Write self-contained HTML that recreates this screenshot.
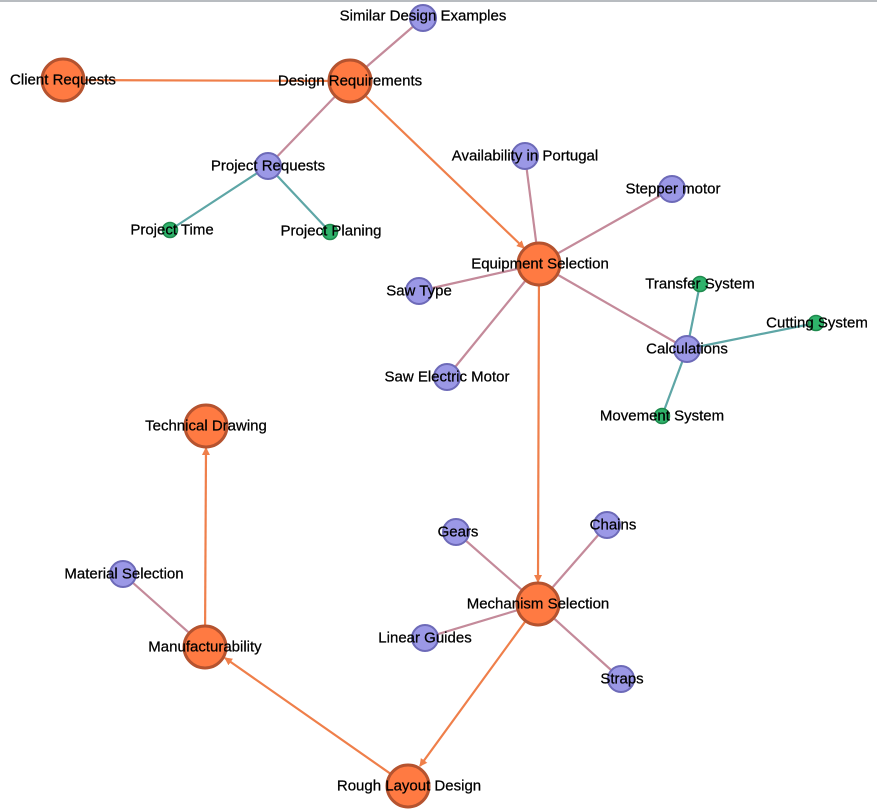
<!DOCTYPE html>
<html><head><meta charset="utf-8"><style>
html,body{margin:0;padding:0;background:#fff;width:877px;height:812px;overflow:hidden}
text{font-family:"Liberation Sans",sans-serif;font-size:15px;fill:#000;stroke:#000;stroke-width:0.25;text-anchor:middle;dominant-baseline:central}
</style></head><body>
<svg width="877" height="812" viewBox="0 0 877 812" xmlns="http://www.w3.org/2000/svg">
<defs><marker id="a" markerWidth="8" markerHeight="8" refX="7" refY="4" orient="auto" markerUnits="userSpaceOnUse"><path d="M0,0 L8,4 L0,8 z" fill="#ef7f4a"/></marker></defs>
<rect x="0" y="0" width="877" height="2" fill="#b8bcc0"/>
<g stroke="#c48a9a" stroke-width="2.2">
<line x1="350" y1="81" x2="423" y2="18"/>
<line x1="350" y1="81" x2="268" y2="166"/>
<line x1="539" y1="264" x2="525" y2="156"/>
<line x1="539" y1="264" x2="672" y2="189"/>
<line x1="539" y1="264" x2="419" y2="291"/>
<line x1="539" y1="264" x2="447" y2="377"/>
<line x1="539" y1="264" x2="687" y2="349"/>
<line x1="538" y1="604" x2="456" y2="532"/>
<line x1="538" y1="604" x2="607" y2="525"/>
<line x1="538" y1="604" x2="425" y2="638"/>
<line x1="538" y1="604" x2="621" y2="679"/>
<line x1="205" y1="647" x2="123" y2="574"/>
</g>
<g stroke="#5ea6a6" stroke-width="2.2">
<line x1="268" y1="166" x2="170" y2="230"/>
<line x1="268" y1="166" x2="330" y2="232"/>
<line x1="687" y1="349" x2="700" y2="284"/>
<line x1="687" y1="349" x2="816" y2="323"/>
<line x1="687" y1="349" x2="662" y2="416"/>
</g>
<g stroke="#ef7f4a" stroke-width="2.2">
<line x1="63" y1="80" x2="350" y2="81"/>
<line x1="350" y1="81" x2="524" y2="248" marker-end="url(#a)"/>
<line x1="539" y1="264" x2="538" y2="582" marker-end="url(#a)"/>
<line x1="538" y1="604" x2="420" y2="766" marker-end="url(#a)"/>
<line x1="408" y1="786" x2="225" y2="658" marker-end="url(#a)"/>
<line x1="205" y1="647" x2="206" y2="448" marker-end="url(#a)"/>
</g>
<g fill="#ff7a42" stroke="#b5532f" stroke-width="3">
<circle cx="63" cy="80" r="21"/><circle cx="350" cy="81" r="21"/><circle cx="539" cy="264" r="21"/>
<circle cx="538" cy="604" r="21"/><circle cx="206" cy="426" r="21"/><circle cx="205" cy="647" r="21"/><circle cx="408" cy="786" r="21"/>
</g>
<g fill="#9b98e6" stroke="#6d6ab8" stroke-width="2">
<circle cx="423" cy="18" r="13"/><circle cx="268" cy="166" r="13"/><circle cx="525" cy="156" r="13"/>
<circle cx="672" cy="189" r="13"/><circle cx="419" cy="291" r="13"/><circle cx="447" cy="377" r="13"/>
<circle cx="687" cy="349" r="13"/><circle cx="456" cy="532" r="13"/><circle cx="607" cy="525" r="13"/>
<circle cx="425" cy="638" r="13"/><circle cx="621" cy="679" r="13"/><circle cx="123" cy="574" r="13"/>
</g>
<g fill="#2fb36b" stroke="#1f8a4e" stroke-width="1.5">
<circle cx="170" cy="230" r="7.5"/><circle cx="330" cy="232" r="7.5"/><circle cx="700" cy="284" r="7.5"/>
<circle cx="816" cy="323" r="7.5"/><circle cx="662" cy="416" r="7.5"/>
</g>
<text x="63" y="80">Client Requests</text>
<text x="350" y="81">Design Requirements</text>
<text x="423" y="16">Similar Design Examples</text>
<text x="268" y="166">Project Requests</text>
<text x="172" y="230">Project Time</text>
<text x="331" y="231">Project Planing</text>
<text x="525" y="156">Availability in Portugal</text>
<text x="673" y="189">Stepper motor</text>
<text x="540" y="264">Equipment Selection</text>
<text x="419" y="291">Saw Type</text>
<text x="447" y="377">Saw Electric Motor</text>
<text x="700" y="284">Transfer System</text>
<text x="817" y="323">Cutting System</text>
<text x="687" y="349">Calculations</text>
<text x="662" y="416">Movement System</text>
<text x="206" y="426">Technical Drawing</text>
<text x="458" y="532">Gears</text>
<text x="613" y="525">Chains</text>
<text x="124" y="574">Material Selection</text>
<text x="538" y="604">Mechanism Selection</text>
<text x="425" y="638">Linear Guides</text>
<text x="205" y="647">Manufacturability</text>
<text x="622" y="679">Straps</text>
<text x="409" y="786">Rough Layout Design</text>
</svg>
</body></html>
